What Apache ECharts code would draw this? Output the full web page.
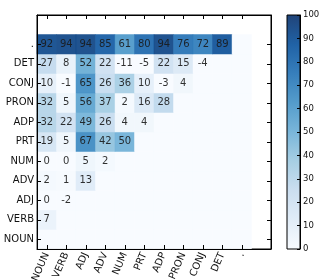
<!DOCTYPE html>
<html>
<head>
<meta charset="utf-8">
<script src="https://cdn.jsdelivr.net/npm/echarts@6/dist/echarts.min.js"></script>
<style>html,body{margin:0;padding:0;background:#fff;}#c{width:325px;height:280px;}</style>
</head>
<body>
<div id="c"></div>
<script>
// Categories (left-to-right on x, bottom-to-top on y)
const categories = ['NOUN','VERB','ADJ','ADV','NUM','PRT','ADP','PRON','CONJ','DET','.'];
// Rows listed from bottom (NOUN) to top ('.'); columns follow categories
const rowNOUN = [];
const rowVERB = [7];
const rowADJ  = [0, -2];
const rowADV  = [2, 1, 13];
const rowNUM  = [0, 0, 5, 2];
const rowPRT  = [19, 5, 67, 42, 50];
const rowADP  = [32, 22, 49, 26, 4, 4];
const rowPRON = [32, 5, 56, 37, 2, 16, 28];
const rowCONJ = [10, -1, 65, 26, 36, 10, -3, 4];
const rowDET  = [27, 8, 52, 22, -11, -5, 22, 15, -4];
const rowDOT  = [92, 94, 94, 85, 61, 80, 94, 76, 72, 89];
const colorbarTicks = [0,10,20,30,40,50,60,70,80,90,100];

const rows = [rowNOUN,rowVERB,rowADJ,rowADV,rowNUM,rowPRT,rowADP,rowPRON,rowCONJ,rowDET,rowDOT];
const axisCats = categories.concat(['']);
const data = [];
rows.forEach((row, r) => {
  for (let c = 0; c < categories.length; c++) {
    const v = c < row.length ? row[c] : null;
    data.push({value: [c, r, v === null ? 0 : Math.max(0, v), v]});
  }
});
const blues = ['#f7fbff','#deebf7','#c6dbef','#9ecae1','#6baed6','#4292c6','#2171b5','#08519c','#08306b'];
const OPA = 0.9;
const FONT = 'DejaVu Sans';
const tickInt = (i) => i < categories.length;
const stops = blues.map((col, i) => ({offset: 1 - i / (blues.length - 1), color: col}));

const chart = echarts.init(document.getElementById('c'), null, {renderer: 'canvas'});
chart.setOption({
  animation: false,
  textStyle: {fontFamily: FONT},
  grid: [
    {left: 37, top: 15, width: 234, height: 234, outerBoundsMode: 'none', containLabel: false, show: true, borderColor: '#000', borderWidth: 1, backgroundColor: '#fff'},
    {left: 287, top: 15, width: 13, height: 234, outerBoundsMode: 'none', containLabel: false, show: false}
  ],
  xAxis: [
    {type: 'category', gridIndex: 0, data: axisCats, position: 'bottom', z: 5,
     axisLine: {show: true, lineStyle: {color: '#000', width: 1}},
     axisTick: {show: true, inside: true, length: 4, alignWithLabel: true, interval: (i) => tickInt(i), lineStyle: {color: '#000'}},
     axisLabel: {show: true, interval: 0, rotate: 67, fontSize: 10, color: '#111', fontFamily: FONT, margin: 4},
     splitLine: {show: false}},
    {type: 'category', gridIndex: 0, data: axisCats, position: 'top', z: 5,
     axisLine: {show: true, lineStyle: {color: '#000', width: 1}},
     axisTick: {show: true, inside: true, length: 4, alignWithLabel: true, interval: (i) => tickInt(i), lineStyle: {color: '#000'}},
     axisLabel: {show: false}, splitLine: {show: false}},
    {type: 'value', gridIndex: 1, min: 0, max: 1, show: false}
  ],
  yAxis: [
    {type: 'category', gridIndex: 0, data: axisCats, position: 'left', z: 5,
     axisLine: {show: true, lineStyle: {color: '#000', width: 1}},
     axisTick: {show: true, inside: true, length: 4, alignWithLabel: true, interval: (i) => tickInt(i), lineStyle: {color: '#000'}},
     axisLabel: {show: true, interval: 0, fontSize: 10, color: '#111', fontFamily: FONT, margin: 3},
     splitLine: {show: false}},
    {type: 'category', gridIndex: 0, data: axisCats, position: 'right', z: 5,
     axisLine: {show: true, lineStyle: {color: '#000', width: 1}},
     axisTick: {show: true, inside: true, length: 4, alignWithLabel: true, interval: (i) => tickInt(i), lineStyle: {color: '#000'}},
     axisLabel: {show: false}, splitLine: {show: false}},
    {type: 'value', gridIndex: 1, min: colorbarTicks[0], max: colorbarTicks[colorbarTicks.length-1], interval: 10, position: 'right', z: 5,
     axisLine: {show: true, onZero: false, lineStyle: {color: '#000', width: 1}},
     axisTick: {show: true, inside: true, length: 3, lineStyle: {color: '#000'}},
     axisLabel: {show: true, fontSize: 8.5, color: '#111', fontFamily: FONT, margin: 3},
     splitLine: {show: false}}
  ],
  visualMap: {type: 'continuous', show: false, min: 0, max: 100, dimension: 2, seriesIndex: 0, inRange: {color: blues}},
  graphic: [
    {type: 'rect', x: 287, y: 15, shape: {x: 0, y: 0, width: 13, height: 234}, z: 0, silent: true,
     style: {fill: new echarts.graphic.LinearGradient(0, 0, 0, 1, stops), opacity: OPA}},
    {type: 'rect', x: 287, y: 15, shape: {x: 0, y: 0, width: 13, height: 234}, z: 6, silent: true,
     style: {fill: 'none', stroke: '#000', lineWidth: 1}}
  ],
  series: [
    {type: 'heatmap', xAxisIndex: 0, yAxisIndex: 0, data: data, itemStyle: {opacity: OPA}, z: 2,
     label: {show: true, fontSize: 10, color: '#1a1a1a', fontFamily: FONT,
       formatter: (p) => p.value[3] === null ? '' : String(p.value[3])},
     emphasis: {disabled: true}}
  ]
});
</script>
</body>
</html>
